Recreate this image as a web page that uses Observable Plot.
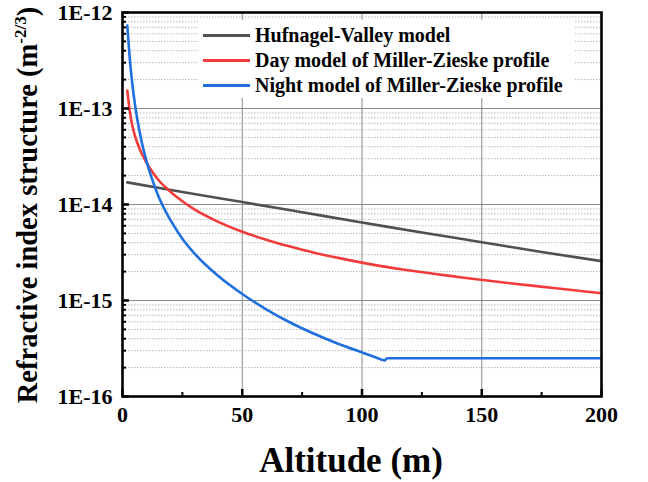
<!DOCTYPE html>
<html><head><meta charset="utf-8">
<script src="https://cdn.jsdelivr.net/npm/d3@7"></script>
<script src="https://cdn.jsdelivr.net/npm/@observablehq/plot@0.6"></script>
<style>
body{margin:0;background:#fff;}
#wrap{position:relative;width:648px;height:482px;font-family:"Liberation Serif","Times New Roman",serif;}
#legend{position:absolute;left:198px;top:20px;width:377px;height:78px;background:#fff;}
.row{position:absolute;left:5px;height:25px;display:flex;align-items:center;font-weight:bold;font-size:20px;color:#000;white-space:nowrap;}
.sw{width:47px;height:3px;margin-right:5px;}
</style></head><body><div id="wrap"></div>
<script>
// Series (altitude in m, Cn2 values)
const hvAlt = [2,25,50,75,100,125,150,175,200];
const hvVal = [1.70e-14,1.35e-14,1.06e-14,8.3e-15,6.5e-15,5.1e-15,4.05e-15,3.2e-15,2.57e-15];
const dayAlt = [2,3,4,5,6,8,10,12,15,20,25,30,40,50,60,70,80,90,100,120,140,160,180,200];
const dayVal = [1.54e-13,9.5e-14,6.8e-14,5.4e-14,4.5e-14,3.4e-14,2.73e-14,2.27e-14,1.8e-14,1.36e-14,1.08e-14,8.9e-15,6.6e-15,5.2e-15,4.3e-15,3.65e-15,3.15e-15,2.78e-15,2.48e-15,2.05e-15,1.76e-15,1.53e-15,1.35e-15,1.19e-15];
const nightAlt = [2,3,4,5,6,8,10,12,15,20,25,30,40,50,60,70,80,90,100,105,109.5,110.5,150,200];
const nightVal = [7.3e-13,3.4e-13,1.9e-13,1.2e-13,8.2e-14,4.5e-14,2.85e-14,1.95e-14,1.22e-14,6.9e-15,4.4e-15,3.1e-15,1.8e-15,1.17e-15,8.1e-16,5.9e-16,4.5e-16,3.55e-16,2.88e-16,2.6e-16,2.38e-16,2.5e-16,2.5e-16,2.5e-16];

const seriesNames = ["Hufnagel-Valley model","Day model of Miller-Zieske profile","Night model of Miller-Zieske profile"];
const seriesColors = ["#505050","#f23c3c","#1f6fde"];

// Axis ticks
const yMajor = [1e-16,1e-15,1e-14,1e-13,1e-12];
const yTickLabels = ["1E-16","1E-15","1E-14","1E-13","1E-12"];
const yMinorMult = [2,3,4,5,6,7,8,9];
const xMajor = [0,50,100,150,200];
const xMinor = [25,75,125,175];
const xTitle = "Altitude (m)";
const yTitle = "Refractive index structure (m";
const yTitleSup = "-2/3";

const rows = [];
[[hvAlt,hvVal],[dayAlt,dayVal],[nightAlt,nightVal]].forEach(([a,v],k)=>{
  a.forEach((x,i)=>rows.push({alt:x,val:v[i],series:seriesNames[k]}));
});
const yMinor = [];
yMajor.slice(0,-1).forEach(d=>yMinorMult.forEach(m=>yMinor.push(d*m)));

const FONT = "Liberation Serif, Times New Roman, serif";
const chart = Plot.plot({
  width:648, height:482,
  marginLeft:122, marginRight:47, marginTop:12, marginBottom:86,
  style:{fontFamily:FONT, fontWeight:"bold", background:"white", color:"black"},
  x:{domain:[0,200]},
  y:{type:"log", domain:[1e-16,1e-12]},
  color:{domain:seriesNames, range:seriesColors},
  marks:[
    Plot.gridY(yMinor, {stroke:"#b8b8b8", strokeOpacity:1, strokeWidth:1, strokeDasharray:"1.5,1.5"}),
    Plot.gridY(yMajor, {stroke:"#8a8a8a", strokeOpacity:1, strokeWidth:1}),
    Plot.gridX(xMajor, {stroke:"#8a8a8a", strokeOpacity:1, strokeWidth:1}),
    Plot.line(rows, {x:"alt", y:"val", z:"series", stroke:"series", strokeWidth:2.6, curve:"monotone-x"}),
    Plot.axisY(yMajor, {tickSize:0, tickPadding:10, fontSize:22, label:null, tickFormat:d=>yTickLabels[yMajor.indexOf(d)]}),
    Plot.axisY(yMajor, {fill:"none", tickSize:7, dx:7, stroke:"black", strokeWidth:2.5, label:null}),
    Plot.axisY(yMinor, {fill:"none", tickSize:4, dx:4, stroke:"black", strokeWidth:2, label:null}),
    Plot.axisX(xMajor, {tickSize:0, tickPadding:10, fontSize:22, label:null, tickFormat:d=>String(d)}),
    Plot.axisX(xMajor, {fill:"none", tickSize:7, dy:-7, stroke:"black", strokeWidth:2.5, label:null}),
    Plot.axisX(xMinor, {fill:"none", tickSize:4, dy:-4, stroke:"black", strokeWidth:2, label:null}),
    Plot.frame({stroke:"black", strokeWidth:2.6})
  ]
});
const wrap = document.getElementById("wrap");
wrap.appendChild(chart);

const svg = d3.select(chart);
svg.append("text")
  .attr("x", 351).attr("y", 472)
  .attr("text-anchor","middle")
  .style("font-family", FONT).style("font-weight","bold").style("font-size","35px")
  .attr("fill","black")
  .text(xTitle);
const yt = svg.append("text")
  .attr("transform","translate(37,205) rotate(-90)")
  .attr("text-anchor","middle")
  .style("font-family", FONT).style("font-weight","bold").style("font-size","28.5px")
  .attr("fill","black");
yt.append("tspan").text(yTitle);
yt.append("tspan").attr("dy",-11).style("font-size","17px").text(yTitleSup);
yt.append("tspan").attr("dy",11).text(")");

// Legend (inside the plot, white box)
const leg = document.createElement("div");
leg.id = "legend";
seriesNames.forEach((name,i)=>{
  const r = document.createElement("div");
  r.className = "row";
  r.style.top = (2.5 + i*25) + "px";
  const sw = document.createElement("div");
  sw.className = "sw";
  sw.style.background = seriesColors[i];
  const t = document.createElement("span");
  t.textContent = name;
  r.appendChild(sw); r.appendChild(t);
  leg.appendChild(r);
});
wrap.appendChild(leg);
</script></body></html>
